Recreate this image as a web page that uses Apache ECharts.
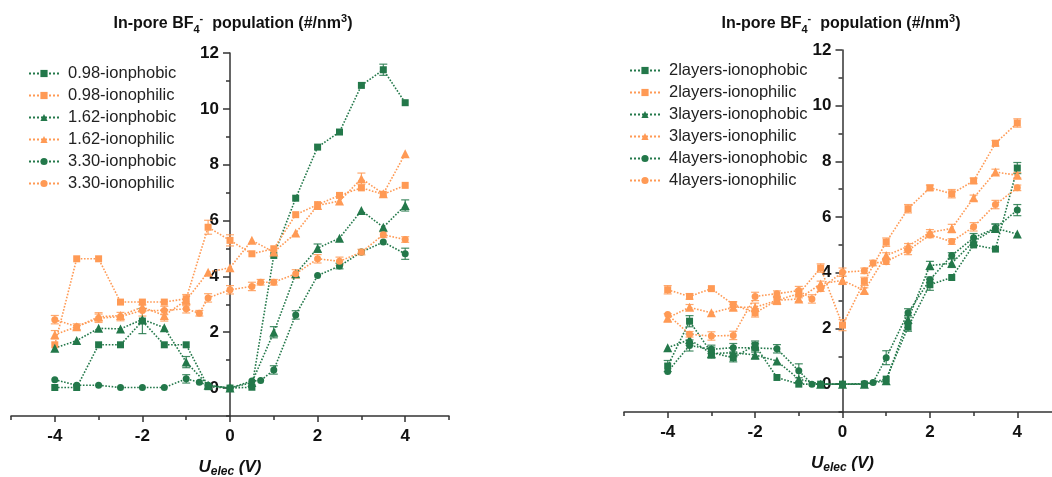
<!DOCTYPE html>
<html>
<head>
<meta charset="utf-8">
<script src="https://cdn.jsdelivr.net/npm/echarts@6/dist/echarts.min.js"></script>
<style>
html, body { margin: 0; padding: 0; background: #fff; }
#main { width: 1052px; height: 477px; }
</style>
</head>
<body>
<div id="main"></div>
<script>
// x positions (V)
var xStd = [-4, -3.5, -3, -2.5, -2, -1.5, -1, -0.5, 0, 0.5, 1, 1.5, 2, 2.5, 3, 3.5, 4];
var xFull = [-4, -3.5, -3, -2.5, -2, -1.5, -1, -0.7, -0.5, 0, 0.5, 0.7, 1, 1.5, 2, 2.5, 3, 3.5, 4];
var xMajor = [-4, -2, 0, 2, 4];
var yMajor = [0, 2, 4, 6, 8, 10, 12];

// left panel: pore size
var leftNames = ['0.98-ionphobic', '0.98-ionophilic', '1.62-ionphobic', '1.62-ionophilic', '3.30-ionphobic', '3.30-ionophilic'];
var phobic098 = [0.02, 0.02, 1.55, 1.55, 2.4, 1.55, 1.55, 0.05, 0, 0.03, 4.75, 6.8, 8.63, 9.17, 10.84, 11.4, 10.22];
var philic098 = [1.55, 4.63, 4.63, 3.08, 3.08, 3.08, 3.2, 5.76, 5.29, 4.81, 4.99, 6.21, 6.57, 6.9, 7.17, 6.94, 7.26];
var phobic162 = [1.43, 1.7, 2.14, 2.12, 2.46, 2.16, 0.93, 0.1, 0, 0.2, 2.0, 4.09, 5.01, 5.37, 6.36, 5.76, 6.54];
var philic162 = [1.91, 2.2, 2.55, 2.6, 2.9, 2.6, 3.15, 4.15, 4.31, 5.29, 4.87, 5.55, 6.54, 6.7, 7.5, 6.96, 8.39];
var phobic330 = [0.3, 0.1, 0.1, 0.02, 0.02, 0.02, 0.33, 0.21, 0.1, 0, 0.25, 0.27, 0.65, 2.62, 4.03, 4.37, 4.87, 5.23, 4.81];
var philic330 = [2.45, 2.2, 2.5, 2.56, 2.78, 2.78, 2.84, 2.68, 3.23, 3.52, 3.64, 3.79, 3.79, 4.09, 4.63, 4.54, 4.87, 5.49, 5.32];

var phobic098Err = [0, 0, 0, 0, 0.45, 0, 0, 0, 0, 0, 0, 0, 0, 0, 0, 0.2, 0];
var philic098Err = [0, 0, 0, 0, 0, 0, 0, 0.25, 0.2, 0, 0, 0, 0, 0, 0, 0, 0];
var phobic162Err = [0, 0, 0, 0, 0, 0, 0.2, 0, 0, 0, 0.2, 0, 0.15, 0, 0, 0, 0.2];
var philic162Err = [0.15, 0, 0.15, 0, 0, 0.2, 0.2, 0, 0, 0, 0, 0, 0, 0, 0.2, 0, 0];
var phobic330Err = [0, 0, 0, 0, 0, 0, 0.15, 0, 0, 0, 0, 0, 0.15, 0.15, 0, 0.1, 0, 0, 0.2];
var philic330Err = [0.15, 0.1, 0.15, 0.15, 0.2, 0.15, 0.15, 0.1, 0.15, 0.15, 0.15, 0.1, 0.1, 0.15, 0.15, 0.15, 0.1, 0.1, 0.1];

// right panel: layers
var rightNames = ['2layers-ionophobic', '2layers-ionophilic', '3layers-ionophobic', '3layers-ionophilic', '4layers-ionophobic', '4layers-ionophilic'];
var phobic2 = [0.65, 2.26, 1.13, 0.95, 1.4, 0.24, 0, 0, 0, 0, 0.18, 2.05, 3.57, 3.83, 5.0, 4.85, 7.76];
var philic2 = [3.39, 3.15, 3.43, 2.86, 2.56, 3.01, 3.25, 4.17, 2.12, 3.69, 5.1, 6.3, 7.05, 6.84, 7.3, 8.65, 9.38];
var phobic3 = [1.31, 1.6, 1.1, 1.13, 1.05, 0.83, 0.18, 0, 0, 0, 0.12, 2.32, 4.26, 4.34, 5.12, 5.6, 5.39];
var philic3 = [2.38, 2.76, 2.56, 2.76, 2.76, 3.01, 3.06, 3.6, 3.73, 3.36, 4.62, 4.95, 5.45, 5.59, 6.69, 7.62, 7.5];
var phobic4 = [0.45, 1.39, 1.25, 1.31, 1.3, 1.27, 0.48, 0, 0, 0, 0.02, 0.06, 0.95, 2.56, 3.75, 4.62, 5.26, 5.6, 6.25];
var philic4 = [2.5, 1.79, 1.73, 1.75, 3.15, 3.25, 3.36, 3.06, 3.43, 4.02, 4.07, 4.35, 4.4, 4.8, 5.36, 5.12, 5.65, 6.45, 7.05];

var phobic2Err = [0.2, 0.2, 0.2, 0.15, 0.15, 0, 0, 0, 0, 0, 0, 0.15, 0.2, 0, 0, 0, 0.2];
var philic2Err = [0.15, 0.1, 0, 0.1, 0.15, 0.15, 0.15, 0.15, 0.2, 0.15, 0.15, 0.15, 0.1, 0.15, 0.1, 0.1, 0.15];
var phobic3Err = [0, 0.2, 0, 0, 0.15, 0, 0, 0, 0, 0, 0, 0.15, 0.15, 0.15, 0, 0.15, 0];
var philic3Err = [0.15, 0.1, 0, 0.1, 0.15, 0.1, 0.1, 0.1, 0.15, 0.1, 0.1, 0.1, 0.1, 0.15, 0.1, 0.1, 0.1];
var phobic4Err = [0, 0.2, 0.15, 0.15, 0.15, 0.15, 0.25, 0, 0, 0, 0, 0, 0.25, 0.15, 0.1, 0.1, 0.15, 0.15, 0.2];
var philic4Err = [0, 0.1, 0.15, 0.15, 0.15, 0.1, 0.15, 0.15, 0.1, 0.15, 0.1, 0.1, 0.1, 0.15, 0.1, 0.1, 0.15, 0.15, 0.1];

var GREEN = '#23784a';
var ORANGE = '#ff9a55';
var FONT = '"Liberation Sans", Arial, sans-serif';

var grids = [
	{ left: 11, top: 53, width: 438, height: 363 },
	{ left: 624, top: 50, width: 437, height: 362 }
];

function pairs(xs, ys, es) {
	return xs.map(function(x, i) {
		return es ? [x, ys[i], es[i]] : [x, ys[i]];
	});
}

function lineSeries(name, xs, ys, color, symbol, axis) {
	return {
		name: name,
		type: 'line',
		xAxisIndex: axis,
		yAxisIndex: axis,
		data: pairs(xs, ys),
		symbol: symbol,
		symbolSize: symbol === 'triangle' ? 9 : 7,
		itemStyle: { color: color },
		lineStyle: { color: color, width: 1.6, type: 'dotted' },
		z: 3
	};
}

function errSeries(xs, ys, es, color, axis) {
	return {
		type: 'custom',
		xAxisIndex: axis,
		yAxisIndex: axis,
		data: pairs(xs, ys, es),
		encode: { x: 0, y: 1 },
		z: 2,
		renderItem: function(params, api) {
			var x = api.value(0), y = api.value(1), e = api.value(2);
			if (!e) {
				return;
			}
			var top = api.coord([x, y + e]);
			var bot = api.coord([x, y - e]);
			var st = { stroke: color, lineWidth: 1.2, opacity: 0.85 };
			return {
				type: 'group',
				children: [
					{ type: 'line', shape: { x1: top[0], y1: top[1], x2: bot[0], y2: bot[1] }, style: st },
					{ type: 'line', shape: { x1: top[0] - 4, y1: top[1], x2: top[0] + 4, y2: top[1] }, style: st },
					{ type: 'line', shape: { x1: bot[0] - 4, y1: bot[1], x2: bot[0] + 4, y2: bot[1] }, style: st }
				]
			};
		}
	};
}

var lineStyle = { color: '#333', width: 1.5 };
var labelStyle = { fontSize: 17, fontWeight: 'bold', color: '#111', fontFamily: FONT };

// two axes per direction: short ticks on every integer, long ticks + labels on the major values
function xAxes(grid) {
	return [{
		gridIndex: grid, type: 'value', min: -5, max: 5, interval: 1, position: 'bottom',
		axisLine: { show: true, onZero: false, lineStyle: lineStyle },
		axisTick: { show: true, length: 4, lineStyle: lineStyle },
		axisLabel: { show: false },
		splitLine: { show: false }
	}, {
		gridIndex: grid, type: 'value', min: -5, max: 5, interval: 1, position: 'bottom',
		axisLine: { show: false, onZero: false },
		axisTick: { show: true, length: 6, customValues: xMajor, lineStyle: lineStyle },
		axisLabel: Object.assign({ show: true, margin: 12, customValues: xMajor }, labelStyle),
		splitLine: { show: false },
		name: '{u|U}{s|elec}{u| (V)}',
		nameLocation: 'middle',
		nameGap: 40,
		nameTextStyle: {
			rich: {
				u: { fontSize: 17, fontWeight: 'bold', fontStyle: 'italic', fontFamily: FONT, color: '#111', lineHeight: 22 },
				s: { fontSize: 12, fontWeight: 'bold', fontStyle: 'italic', fontFamily: FONT, color: '#111', lineHeight: 12, verticalAlign: 'bottom' }
			}
		}
	}];
}

function yAxes(grid, zeroIdx) {
	// x = 0 sits in the middle of the -5..5 range
	var shift = -grids[grid].width / 2;
	return [{
		gridIndex: grid, type: 'value', min: -1, max: 12, interval: 1, position: 'left',
		axisLine: { show: true, onZero: true, onZeroAxisIndex: zeroIdx, lineStyle: lineStyle },
		axisTick: { show: true, length: 4, lineStyle: lineStyle },
		axisLabel: { show: false },
		splitLine: { show: false }
	}, {
		gridIndex: grid, type: 'value', min: -1, max: 12, interval: 1, position: 'left', offset: shift,
		axisLine: { show: false, onZero: false },
		axisTick: { show: true, length: 7, customValues: yMajor, lineStyle: lineStyle },
		axisLabel: Object.assign({ show: true, margin: 11, customValues: yMajor }, labelStyle),
		splitLine: { show: false }
	}];
}

var titleText = '{b|In-pore BF}{sub|4}{sup|-}{b|  population (#/nm}{sup|3}{b|)}';
var titleRich = {
	b: { fontSize: 16, fontWeight: 'bold', fontFamily: FONT, color: '#111', lineHeight: 22 },
	sub: { fontSize: 11, fontWeight: 'bold', fontFamily: FONT, color: '#111', lineHeight: 11, verticalAlign: 'bottom' },
	sup: { fontSize: 11, fontWeight: 'bold', fontFamily: FONT, color: '#111', lineHeight: 11, verticalAlign: 'top' }
};

function legend(names, left, top) {
	return {
		data: names, orient: 'vertical', left: left, top: top,
		itemWidth: 30, itemHeight: 9, itemGap: 5, selectedMode: false, padding: 0,
		textStyle: { fontSize: 16.5, lineHeight: 16, color: '#222', fontFamily: FONT, padding: [0, 0, 0, 4] }
	};
}

var chart = echarts.init(document.getElementById('main'));
var series = [
	lineSeries(leftNames[0], xStd, phobic098, GREEN, 'rect', 0),
	lineSeries(leftNames[1], xStd, philic098, ORANGE, 'rect', 0),
	lineSeries(leftNames[2], xStd, phobic162, GREEN, 'triangle', 0),
	lineSeries(leftNames[3], xStd, philic162, ORANGE, 'triangle', 0),
	lineSeries(leftNames[4], xFull, phobic330, GREEN, 'circle', 0),
	lineSeries(leftNames[5], xFull, philic330, ORANGE, 'circle', 0),
	errSeries(xStd, phobic098, phobic098Err, GREEN, 0),
	errSeries(xStd, philic098, philic098Err, ORANGE, 0),
	errSeries(xStd, phobic162, phobic162Err, GREEN, 0),
	errSeries(xStd, philic162, philic162Err, ORANGE, 0),
	errSeries(xFull, phobic330, phobic330Err, GREEN, 0),
	errSeries(xFull, philic330, philic330Err, ORANGE, 0),
	lineSeries(rightNames[0], xStd, phobic2, GREEN, 'rect', 2),
	lineSeries(rightNames[1], xStd, philic2, ORANGE, 'rect', 2),
	lineSeries(rightNames[2], xStd, phobic3, GREEN, 'triangle', 2),
	lineSeries(rightNames[3], xStd, philic3, ORANGE, 'triangle', 2),
	lineSeries(rightNames[4], xFull, phobic4, GREEN, 'circle', 2),
	lineSeries(rightNames[5], xFull, philic4, ORANGE, 'circle', 2),
	errSeries(xStd, phobic2, phobic2Err, GREEN, 2),
	errSeries(xStd, philic2, philic2Err, ORANGE, 2),
	errSeries(xStd, phobic3, phobic3Err, GREEN, 2),
	errSeries(xStd, philic3, philic3Err, ORANGE, 2),
	errSeries(xFull, phobic4, phobic4Err, GREEN, 2),
	errSeries(xFull, philic4, philic4Err, ORANGE, 2)
];

chart.setOption({
	animation: false,
	backgroundColor: '#fff',
	title: [
		{ text: titleText, left: 233, top: 13, textAlign: 'center', padding: 0, textStyle: { rich: titleRich } },
		{ text: titleText, left: 841, top: 13, textAlign: 'center', padding: 0, textStyle: { rich: titleRich } }
	],
	legend: [legend(leftNames, 28, 65), legend(rightNames, 629, 62)],
	grid: grids.map(function(g) {
		return Object.assign({ outerBoundsMode: 'none' }, g);
	}),
	xAxis: xAxes(0).concat(xAxes(1)),
	yAxis: yAxes(0, 0).concat(yAxes(1, 2)),
	series: series
});
</script>
</body>
</html>
